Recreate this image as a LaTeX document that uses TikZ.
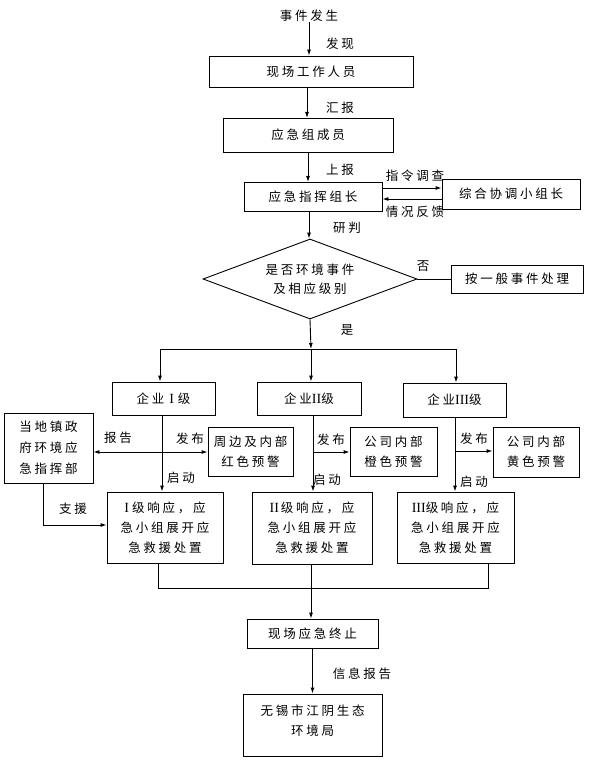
\documentclass[tikz,border=0pt]{standalone}
\usepackage{fontspec}
\usetikzlibrary{arrows.meta,shapes.geometric}
\newfontfamily\cjk{Noto Sans CJK SC}[LetterSpace=22]
\newfontfamily\rmn{Liberation Serif}
\newcommand{\rn}[1]{{\rmn\fontsize{14}{20}\selectfont #1}}
\begin{document}
\begin{tikzpicture}[x=1pt,y=-1pt,
  font=\cjk\fontsize{12.5}{20}\selectfont,
  box/.style={draw,line width=0.9pt,inner sep=0pt,align=center},
  arr/.style={-{Latex[length=6pt,width=4pt]},line width=0.9pt},
  ln/.style={line width=0.9pt},
  lbl/.style={inner sep=0pt,align=center}]
\useasboundingbox (0,0) rectangle (589,762);
% nodes
\node[lbl] (ev) at (309,16) {事件发生};
\node[box,minimum width=204pt,minimum height=31pt] (b1) at (311,71.5) {现场工作人员};
\node[box,minimum width=170pt,minimum height=34pt] (b2) at (308,135) {应急组成员};
\node[box,minimum width=138pt,minimum height=29pt] (b3) at (313,196.5) {应急指挥组长};
\node[box,minimum width=138pt,minimum height=30pt] (b4) at (511,194) {综合协调小组长};
\node[draw,diamond,aspect=2.6,minimum width=214pt,minimum height=80pt,inner sep=0pt,align=center,line width=0.9pt] (dm) at (310,279) {是否环境事件\\[-1pt]及相应级别};
\node[box,minimum width=132pt,minimum height=28pt] (b5) at (517,279) {按一般事件处理};
\node[box,minimum width=103pt,minimum height=33pt] (e1) at (163.5,398.5) {企业\hspace{5pt}\rn{I}\hspace{4pt}级};
\node[box,minimum width=104pt,minimum height=33pt] (e2) at (309,398.5) {企业\rn{II}级};
\node[box,minimum width=103pt,minimum height=34pt] (e3) at (454.5,400) {企业\rn{III}级};
\node[box,minimum width=89pt,minimum height=70pt] (gov) at (48.5,448) {当地镇政\\[1pt]府环境应\\[1pt]急指挥部};
\node[box,minimum width=85pt,minimum height=49pt] (w1) at (250.5,451.5) {周边及内部\\红色预警};
\node[box,minimum width=87pt,minimum height=49pt] (w2) at (393.5,451.5) {公司内部\\橙色预警};
\node[box,minimum width=86pt,minimum height=50pt] (w3) at (536,452) {公司内部\\黄色预警};
\node[box,minimum width=116pt,minimum height=71pt] (r1) at (165,527.5) {\rn{I}\hspace{3pt}级响应，应\\急小组展开应\\急救援处置};
\node[box,minimum width=120pt,minimum height=72pt] (r2) at (312,528) {\rn{II}\hspace{2pt}级响应，应\\急小组展开应\\急救援处置};
\node[box,minimum width=117pt,minimum height=71pt] (r3) at (455.5,527.5) {\rn{III}级响应，应\\急小组展开应\\急救援处置};
\node[box,minimum width=131pt,minimum height=29pt] (end) at (312.5,633.5) {现场应急终止};
\node[box,minimum width=139pt,minimum height=62pt] (bur) at (312.5,725) {};
\node[lbl] (burt) at (312.5,721) {无锡市江阴生态\\环境局};
% labels
\node[lbl] (l1) at (340,44) {发现};
\node[lbl] (l2) at (340,108) {汇报};
\node[lbl] (l3) at (340,170) {上报};
\node[lbl] (l4) at (415,176) {指令调查};
\node[lbl] (l5) at (415,212) {情况反馈};
\node[lbl] (l6) at (347,228) {研判};
\node[lbl] (l7) at (423,266) {否};
\node[lbl] (l8) at (347,330) {是};
\node[lbl] (l9) at (118,438) {报告};
\node[lbl] (l10) at (190,439) {发布};
\node[lbl] (l11) at (181,478) {启动};
\node[lbl] (l12) at (73,509) {支援};
\node[lbl] (l13) at (331,440) {发布};
\node[lbl] (l14) at (327,480) {启动};
\node[lbl] (l15) at (474,439) {发布};
\node[lbl] (l16) at (474,482) {启动};
\node[lbl] (l17) at (362,674) {信息报告};
% coordinates
\coordinate (hj) at (311,349);
\coordinate (h1) at (160,349);
\coordinate (h3) at (456,349);
\coordinate (c1) at (162,452);
\coordinate (c2) at (313,452);
\coordinate (c3) at (455,451);
\coordinate (jb) at (311,588);
\coordinate (ja) at (158,588);
\coordinate (jc) at (488,588);
% connectors
\draw[arr] (ev.south) -- (ev.south |- b1.north);
\draw[arr] (307,87) -- (307,118);
\draw[arr] (308,152) -- (308,182);
\draw[arr] (b3.east |- 0,188) -- (b4.west |- 0,188);
\draw[arr] (b4.west |- 0,199) -- (b3.east |- 0,199);
\draw[arr] (309,211) -- (dm.north -| 309,0);
\draw[ln] (dm.east) -- (b5.west);
\draw[arr] (dm.south) -- (hj);
\draw[ln] (h1) -- (h3);
\draw[arr] (h1) -- (h1 |- e1.north);
\draw[arr] (hj) -- (hj |- e2.north);
\draw[arr] (h3) -- (h3 |- e3.north);
\draw[arr] (c1 |- e1.south) -- (c1 |- r1.north);
\draw[arr] (c1) -- (c1 -| gov.east);
\draw[arr] (c1) -- (c1 -| w1.west);
\draw[arr] (c2 |- e2.south) -- (c2 |- r2.north);
\draw[arr] (c2) -- (c2 -| w2.west);
\draw[arr] (c3 |- e3.south) -- (c3 |- r3.north);
\draw[arr] (c3) -- (c3 -| w3.west);
\draw[arr] (43,483) |- (r1.west |- 0,525);
\draw[ln] (ja |- r1.south) -- (ja) -- (jc) -- (jc |- r3.south);
\draw[arr] (jb |- r2.south) -- (jb |- end.north);
\draw[arr] (end.south) -- (end.south |- bur.north);
\end{tikzpicture}
\end{document}
